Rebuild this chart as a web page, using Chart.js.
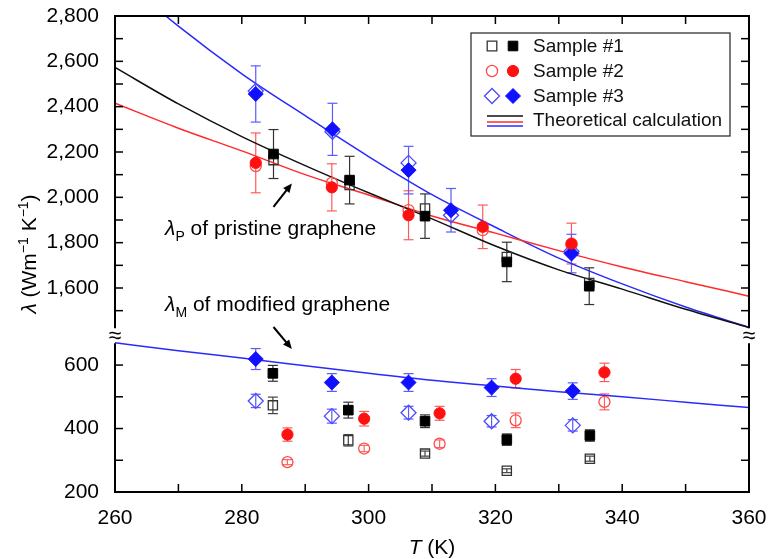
<!DOCTYPE html>
<html>
<head>
<meta charset="utf-8">
<script src="https://cdn.jsdelivr.net/npm/chart.js@4.4.0/dist/chart.umd.min.js"></script>
<style>
  html, body { margin: 0; padding: 0; background: #fff; }
  #wrap { width: 768px; height: 559px; position: relative; }
</style>
</head>
<body>
<div id="wrap"><canvas id="chart"></canvas></div>
<script>
// pristine graphene (upper panel), T in K, lambda in W/mK
const tP1 = [285.0, 297.0, 308.9, 321.8, 334.8];
const p1Filled = [2191, 2076, 1917, 1715, 1608];
const p1Open = [2164, 2054, 1951, 1737, 1622];
const p1Err = [108, 105, 98, 87, 81];

const tP2 = [282.2, 294.2, 306.3, 318.0, 332.0];
const p2Filled = [2152, 2044, 1921, 1870, 1796];
const p2Open = [2138, 2064, 1944, 1855, 1790];
const p2Err = [132, 104, 108, 96, 90];

const tP3 = [282.2, 294.3, 306.3, 313.0, 332.0];
const p3Filled = [2456, 2300, 2120, 1943, 1752];
const p3Open = [2469, 2289, 2152, 1921, 1762];
const p3Err = [124, 115, 105, 96, 85];

// modified graphene (lower panel)
const tM1 = [284.9, 296.8, 308.9, 321.8, 334.9];
const m1Filled = [574, 458, 423, 365, 378];
const m1Open = [473, 363, 321, 267, 305];
const m1FilledErr = [25, 25, 20, 18, 18];
const m1OpenErr = [26, 18, 8, 6, 8];

const tM2 = [287.2, 299.3, 311.2, 323.2, 337.2];
const m2Filled = [381, 431, 448, 557, 577];
const m2Open = [294, 337, 352, 426, 484];
const m2FilledErr = [21, 23, 22, 29, 29];
const m2OpenErr = [8, 10, 12, 23, 25];

const tM3 = [282.2, 294.2, 306.3, 319.4, 332.2];
const m3Filled = [619, 545, 545, 529, 518];
const m3Open = [487, 439, 450, 423, 410];
const m3FilledErr = [33, 28, 28, 28, 26];
const m3OpenErr = [21, 22, 20, 18, 18];

// theoretical calculation
const tTheory = [260, 270, 280, 290, 300, 310, 320, 330, 340, 350, 360];
const theoryP1 = [2573, 2412, 2268, 2140, 2020, 1905, 1785, 1680, 1595, 1506, 1426];
const theoryP2 = [2415, 2305, 2205, 2100, 2010, 1918, 1842, 1765, 1693, 1628, 1564];
const theoryP3 = [2990, 2755, 2545, 2360, 2180, 2012, 1868, 1732, 1618, 1516, 1426];
const theoryM3 = [670, 645, 622, 598, 574, 552, 534, 516, 500, 483, 466];

const xTicks = [260, 280, 300, 320, 340, 360];

const FONT = "'Liberation Sans', Arial, Helvetica, sans-serif";

function pts(xs, ys) {
    return xs.map(function(x, i) { return { x: x, y: ys[i] }; });
}

function markers(label, xs, ys, errs, axis, style, radius, color, filled, errColor) {
    return {
        label: label,
        data: pts(xs, ys),
        yAxisID: axis,
        err: errs,
        errColor: errColor,
        showLine: false,
        pointStyle: style,
        pointRadius: radius,
        pointHoverRadius: radius,
        pointBackgroundColor: filled ? color : 'rgba(0,0,0,0)',
        pointBorderColor: color,
        pointBorderWidth: filled ? 1 : 1.3,
        order: filled ? 1 : 2
    };
}

function curve(label, ys, axis, color) {
    return {
        label: label,
        data: pts(tTheory, ys),
        yAxisID: axis,
        showLine: true,
        borderColor: color,
        borderWidth: 1.5,
        pointRadius: 0,
        cubicInterpolationMode: 'monotone',
        fill: false,
        order: 5
    };
}

const BLACK = '#000000', RED = '#ff1010', BLUE = '#1010ff';

const datasets = [
    curve('Theory #1', theoryP1, 'yTop', '#111111'),
    curve('Theory #2', theoryP2, 'yTop', '#ff2a2a'),
    curve('Theory #3', theoryP3, 'yTop', '#2a2aff'),
    curve('Theory modified', theoryM3, 'yBot', '#2a2aff'),

    markers('Sample #1 open', tP1, p1Open, null, 'yTop', 'rect', 6.5, '#333333', false, '#444'),
    markers('Sample #1', tP1, p1Filled, p1Err, 'yTop', 'rect', 6.8, BLACK, true, '#333'),
    markers('Sample #2 open', tP2, p2Open, null, 'yTop', 'circle', 5.5, '#ff4a4a', false, '#ff6060'),
    markers('Sample #2', tP2, p2Filled, p2Err, 'yTop', 'circle', 5.6, RED, true, '#ff5a5a'),
    markers('Sample #3 open', tP3, p3Open, null, 'yTop', 'rectRot', 7.5, '#4a4aff', false, '#5a5aff'),
    markers('Sample #3', tP3, p3Filled, p3Err, 'yTop', 'rectRot', 7.5, BLUE, true, '#5a5aff'),

    markers('Sample #1 open M', tM1, m1Open, m1OpenErr, 'yBot', 'rect', 6.5, '#333333', false, '#444'),
    markers('Sample #1 M', tM1, m1Filled, m1FilledErr, 'yBot', 'rect', 6.8, BLACK, true, '#333'),
    markers('Sample #2 open M', tM2, m2Open, m2OpenErr, 'yBot', 'circle', 5.5, '#ff4a4a', false, '#ff6060'),
    markers('Sample #2 M', tM2, m2Filled, m2FilledErr, 'yBot', 'circle', 5.6, RED, true, '#ff5a5a'),
    markers('Sample #3 open M', tM3, m3Open, m3OpenErr, 'yBot', 'rectRot', 7.5, '#4a4aff', false, '#5a5aff'),
    markers('Sample #3 M', tM3, m3Filled, m3FilledErr, 'yBot', 'rectRot', 7.5, BLUE, true, '#5a5aff')
];

function line(ctx, x1, y1, x2, y2) {
    ctx.beginPath();
    ctx.moveTo(x1, y1);
    ctx.lineTo(x2, y2);
    ctx.stroke();
}

// draws a run of text pieces: {t, italic, sub, sup}
function richText(ctx, pieces, x, y, size) {
    let w = 0;
    pieces.forEach(function(p) {
        const s = (p.sub || p.sup) ? Math.round(size * 0.68) : size;
        ctx.font = (p.italic ? 'italic ' : '') + s + 'px ' + FONT;
        p.w = ctx.measureText(p.t).width;
        p.s = s;
        w += p.w;
    });
    let cx = x;
    pieces.forEach(function(p) {
        ctx.font = (p.italic ? 'italic ' : '') + p.s + 'px ' + FONT;
        let dy = 0;
        if (p.sub) dy = size * 0.3;
        if (p.sup) dy = -size * 0.38;
        ctx.fillText(p.t, cx, y + dy);
        cx += p.w;
    });
    return w;
}

function measureRich(ctx, pieces, size) {
    let w = 0;
    pieces.forEach(function(p) {
        const s = (p.sub || p.sup) ? Math.round(size * 0.68) : size;
        ctx.font = (p.italic ? 'italic ' : '') + s + 'px ' + FONT;
        w += ctx.measureText(p.t).width;
    });
    return w;
}

function arrow(ctx, x1, y1, x2, y2) {
    const ang = Math.atan2(y2 - y1, x2 - x1);
    ctx.lineWidth = 2;
    line(ctx, x1, y1, x2 - 6 * Math.cos(ang), y2 - 6 * Math.sin(ang));
    ctx.beginPath();
    ctx.moveTo(x2, y2);
    ctx.lineTo(x2 - 9 * Math.cos(ang) + 4 * Math.sin(ang), y2 - 9 * Math.sin(ang) - 4 * Math.cos(ang));
    ctx.lineTo(x2 - 9 * Math.cos(ang) - 4 * Math.sin(ang), y2 - 9 * Math.sin(ang) + 4 * Math.cos(ang));
    ctx.closePath();
    ctx.fill();
}

function legendMark(ctx, style, x, y, color, filled) {
    ctx.beginPath();
    if (style === 'rect') {
        ctx.rect(x - 4.8, y - 4.8, 9.6, 9.6);
    } else if (style === 'circle') {
        ctx.arc(x, y, 5.6, 0, Math.PI * 2);
    } else {
        ctx.moveTo(x, y - 7.5); ctx.lineTo(x + 7.5, y); ctx.lineTo(x, y + 7.5); ctx.lineTo(x - 7.5, y);
        ctx.closePath();
    }
    ctx.strokeStyle = color;
    ctx.lineWidth = filled ? 1 : 1.3;
    if (filled) { ctx.fillStyle = color; ctx.fill(); }
    ctx.stroke();
}

const decor = {
    id: 'decor',
    beforeDatasetsDraw: function(chart) {
        const ctx = chart.ctx, xs = chart.scales.x;
        ctx.save();
        chart.data.datasets.forEach(function(ds) {
            if (!ds.err) return;
            const ys = chart.scales[ds.yAxisID];
            ctx.strokeStyle = ds.errColor;
            ctx.lineWidth = 1.2;
            ds.data.forEach(function(p, i) {
                const e = ds.err[i];
                if (!e) return;
                const x = xs.getPixelForValue(p.x);
                const y1 = ys.getPixelForValue(p.y + e), y2 = ys.getPixelForValue(p.y - e);
                line(ctx, x, y1, x, y2);
                line(ctx, x - 5, y1, x + 5, y1);
                line(ctx, x - 5, y2, x + 5, y2);
            });
        });
        ctx.restore();
    },
    afterDraw: function(chart) {
        const ctx = chart.ctx, a = chart.chartArea;
        const xs = chart.scales.x, yTop = chart.scales.yTop, yBot = chart.scales.yBot;
        const brk = yTop.bottom;
        ctx.save();

        // frame with the axis break
        ctx.strokeStyle = '#000';
        ctx.lineWidth = 2;
        line(ctx, a.left - 1, a.top, a.right + 1, a.top);
        line(ctx, a.left - 1, a.bottom, a.right + 1, a.bottom);
        [a.left, a.right].forEach(function(x) {
            line(ctx, x, a.top, x, brk - 5);
            line(ctx, x, brk + 10, x, a.bottom);
        });
        ctx.fillStyle = '#000';
        ctx.font = '23px ' + FONT;
        ctx.textAlign = 'center';
        ctx.textBaseline = 'middle';
        ctx.fillText('\u2248', a.left, brk + 3);
        ctx.fillText('\u2248', a.right, brk + 3);

        // inward ticks
        ctx.lineWidth = 1.5;
        const L = 8;
        xs.ticks.forEach(function(t) {
            if (t.value <= xs.min || t.value >= xs.max) return;
            const px = xs.getPixelForValue(t.value);
            line(ctx, px, a.bottom, px, a.bottom - L);
            line(ctx, px, a.top, px, a.top + L);
        });
        [yTop, yBot].forEach(function(s) {
            s.ticks.forEach(function(t) {
                if (t.value <= s.min || t.value >= s.max) return;
                const py = s.getPixelForValue(t.value);
                line(ctx, a.left, py, a.left + L, py);
                line(ctx, a.right, py, a.right - L, py);
            });
        });

        // axis titles
        ctx.fillStyle = '#000';
        ctx.textAlign = 'left';
        ctx.textBaseline = 'alphabetic';
        const xTitle = [{ t: 'T', italic: true }, { t: ' (K)' }];
        const xw = measureRich(ctx, xTitle, 21);
        richText(ctx, xTitle, (a.left + a.right) / 2 - xw / 2, 554, 21);

        const yTitle = [{ t: '\u03bb', italic: true }, { t: ' (Wm' }, { t: '\u22121', sup: true }, { t: ' K' }, { t: '\u22121', sup: true }, { t: ')' }];
        const yw = measureRich(ctx, yTitle, 21);
        ctx.save();
        ctx.translate(36, (a.top + a.bottom) / 2);
        ctx.rotate(-Math.PI / 2);
        richText(ctx, yTitle, -yw / 2, 0, 21);
        ctx.restore();

        // annotations
        const px = function(T) { return xs.getPixelForValue(T); };
        richText(ctx, [{ t: '\u03bb', italic: true }, { t: 'P', sub: true }, { t: ' of pristine graphene' }],
            px(267.9), yTop.getPixelForValue(1833), 21);
        richText(ctx, [{ t: '\u03bb', italic: true }, { t: 'M', sub: true }, { t: ' of modified graphene' }],
            px(267.9), yTop.getPixelForValue(1499), 21);
        ctx.fillStyle = '#000';
        ctx.strokeStyle = '#000';
        arrow(ctx, px(285.0), yTop.getPixelForValue(1958), px(287.9), yTop.getPixelForValue(2061));
        arrow(ctx, px(285.0), yTop.getPixelForValue(1428), px(287.9), yBot.getPixelForValue(651));

        // legend
        const lx = 471, ly = 33, lw = 259, lh = 103;
        ctx.fillStyle = '#fff';
        ctx.fillRect(lx, ly, lw, lh);
        ctx.strokeStyle = '#222';
        ctx.lineWidth = 1.2;
        ctx.strokeRect(lx, ly, lw, lh);
        const rows = [
            ['Sample #1', 'rect', '#333333', BLACK],
            ['Sample #2', 'circle', '#ff4a4a', RED],
            ['Sample #3', 'rectRot', '#4a4aff', BLUE]
        ];
        rows.forEach(function(r, i) {
            const y = ly + 13 + i * 25;
            legendMark(ctx, r[1], lx + 21, y, r[2], false);
            legendMark(ctx, r[1], lx + 42, y, r[3], true);
            ctx.fillStyle = '#111';
            ctx.font = '19px ' + FONT;
            ctx.textBaseline = 'middle';
            ctx.fillText(r[0], lx + 62, y + 1);
        });
        ctx.lineWidth = 1.5;
        ctx.strokeStyle = '#111'; line(ctx, lx + 16, ly + 83, lx + 52, ly + 83);
        ctx.strokeStyle = '#ff2a2a'; line(ctx, lx + 16, ly + 89, lx + 52, ly + 89);
        ctx.strokeStyle = '#2a2aff'; line(ctx, lx + 16, ly + 93, lx + 52, ly + 93);
        ctx.fillStyle = '#111';
        ctx.fillText('Theoretical calculation', lx + 62, ly + 88);

        ctx.restore();
    }
};

const tickFont = { family: FONT, size: 21 };

function fitY(s) {
    s.width = 115;
    s.paddingTop = 0;
    s.paddingBottom = 0;
}

new Chart(document.getElementById('chart').getContext('2d'), {
    type: 'scatter',
    data: { datasets: datasets },
    options: {
        responsive: true,
        maintainAspectRatio: false,
        animation: false,
        layout: { padding: { top: 16, right: 19, left: 0, bottom: 0 } },
        plugins: {
            legend: { display: false },
            tooltip: { enabled: false }
        },
        scales: {
            x: {
                type: 'linear',
                min: 260,
                max: 360,
                grid: { display: false },
                border: { display: false },
                afterBuildTicks: function(s) {
                    const t = [];
                    for (let v = s.min; v <= s.max; v += 10) t.push({ value: v });
                    s.ticks = t;
                },
                ticks: {
                    autoSkip: false,
                    maxRotation: 0,
                    padding: 6,
                    color: '#000',
                    font: tickFont,
                    callback: function(v) { return xTicks.indexOf(v) >= 0 ? String(v) : ''; }
                },
                afterFit: function(s) {
                    s.height = 67;
                    s.paddingLeft = 0;
                    s.paddingRight = 0;
                }
            },
            yBot: {
                type: 'linear',
                position: 'left',
                stack: 'lambda',
                stackWeight: 1,
                min: 200,
                max: 700,
                grid: { display: false },
                border: { display: false },
                ticks: {
                    stepSize: 100,
                    autoSkip: false,
                    padding: 8,
                    color: '#000',
                    font: tickFont,
                    callback: function(v) { return v % 200 === 0 ? String(v) : ''; }
                },
                afterFit: fitY
            },
            yTop: {
                type: 'linear',
                position: 'left',
                stack: 'lambda',
                stackWeight: 2,
                min: 1400,
                max: 2800,
                grid: { display: false },
                border: { display: false },
                ticks: {
                    stepSize: 100,
                    autoSkip: false,
                    padding: 8,
                    color: '#000',
                    font: tickFont,
                    callback: function(v) { return (v % 200 === 0 && v > 1400) ? v.toLocaleString('en-US') : ''; }
                },
                afterFit: fitY
            }
        }
    },
    plugins: [decor]
});
</script>
</body>
</html>
